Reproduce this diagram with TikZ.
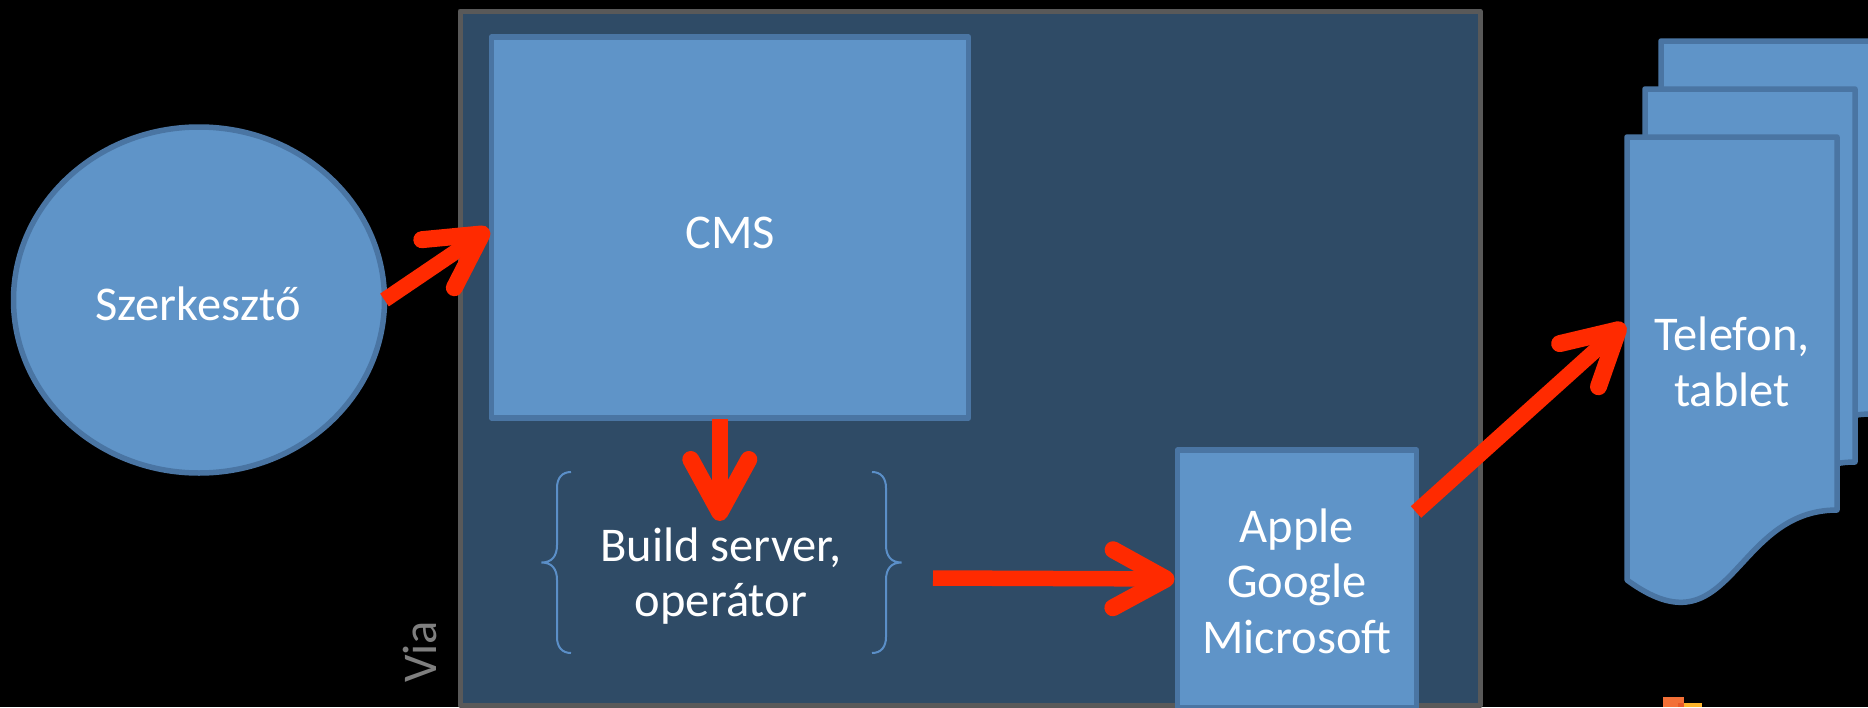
\documentclass[tikz,border=0pt]{standalone}
\usepackage{fontspec}
\setmainfont{Carlito}
\usetikzlibrary{arrows.meta,shapes.geometric}
\definecolor{boxfill}{HTML}{5F94C8}
\definecolor{boxline}{HTML}{4A75A3}
\definecolor{viafill}{HTML}{2F4B66}
\definecolor{vialine}{HTML}{595959}
\definecolor{vialabelcol}{HTML}{7F7F7F}
\definecolor{redarrow}{HTML}{FF2A00}
\definecolor{bracecol}{HTML}{5B8FC8}
\definecolor{iconorange}{HTML}{F37037}
\definecolor{icondark}{HTML}{E85A28}
\definecolor{iconyellow}{HTML}{FDB42B}
\tikzset{
  lbl/.style={text=white,align=center,font=\fontsize{48.5}{55.5}\selectfont,inner sep=0pt,outer sep=0pt},
  bluebox/.style={lbl,draw=boxline,fill=boxfill,line width=5.5pt,line join=round,shape=rectangle},
  viabox/.style={draw=vialine,fill=viafill,line width=5pt,line join=round,shape=rectangle,inner sep=0pt,outer sep=0pt},
  docshape/.style={draw=boxline,fill=boxfill,line width=5.5pt,line join=round},
  bracestyle/.style={draw=bracecol,line width=2pt},
  flow/.style={draw=redarrow,line width=15.5pt,shorten >=3pt,-{Straight Barb[length=53pt,width=58pt,round,line width=17pt]}},
}
\newcommand{\docpath}[2]{\path[docshape,shift={(#1,#2)}] (0,0) -- (210,0) -- (210,373) .. controls (105,373) and (105,520) .. (0,443) -- cycle;}
\begin{document}
\begin{tikzpicture}[x=1pt,y=-1pt]
\clip (0,0) rectangle (1868,707);
\fill[black] (0,0) rectangle (1868,707);
% outer frame
\node[viabox,minimum width=1020pt,minimum height=694pt] (via) at (970,358) {};
\node[lbl,text=vialabelcol,rotate=90] (vialabel) at (420,652) {Via};
% circle
\node[bluebox,shape=ellipse,minimum width=371pt,minimum height=346pt] (szerk) at (199,300) {};
\node[lbl] (szerklabel) at (198,304) {Szerkesztő};
% CMS
\node[bluebox,minimum width=477pt,minimum height=381pt] (cms) at (730,227.5) {};
\node[lbl] (cmslabel) at (730,233) {CMS};
% Build server
\node[lbl,minimum width=360pt,minimum height=181pt] (build) at (721.5,562.5) {};
\node[lbl] (buildlabel) at (721,576) {Build server,\\operátor};
\path[bracestyle] (571,472) .. controls (562,472) and (557,478) .. (557,488) -- (557,545) .. controls (557,556) and (552,562.5) .. (541.5,562.5) .. controls (552,562.5) and (557,569) .. (557,580) -- (557,637) .. controls (557,647) and (562,653) .. (571,653);
\path[bracestyle] (872,472) .. controls (881,472) and (886,478) .. (886,488) -- (886,545) .. controls (886,556) and (891,562.5) .. (901.5,562.5) .. controls (891,562.5) and (886,569) .. (886,580) -- (886,637) .. controls (886,647) and (881,653) .. (872,653);
% Apple box
\node[bluebox,minimum width=239pt,minimum height=258pt] (apple) at (1297,579) {};
\node[lbl] (applelabel) at (1297,581) {Apple\\Google\\Microsoft};
% documents
\docpath{1661}{41}
\docpath{1645}{89}
\docpath{1627}{137}
\node[lbl] (phone) at (1732,362) {Telefon,\\tablet};
% stray icon at the page edge
\fill[iconorange] (1663,697) rectangle (1684,707);
\fill[iconyellow] (1684,703) rectangle (1702,707);
\fill[icondark] (1678,703) rectangle (1684,707);
% connectors
\coordinate (phonein) at (1627,322);
\coordinate (buildtip) at (719.8,524);
\coordinate (buildtail) at (719.8,419);
\coordinate (buildout) at (933,578);
\coordinate (appleout) at (1416,512);
\draw[flow] (szerk.east) -- (cms.west);
\draw[flow] (buildtail) -- (buildtip);
\draw[flow] (buildout) -- (apple.west);
\draw[flow] (appleout) -- (phonein);
\end{tikzpicture}
\end{document}
